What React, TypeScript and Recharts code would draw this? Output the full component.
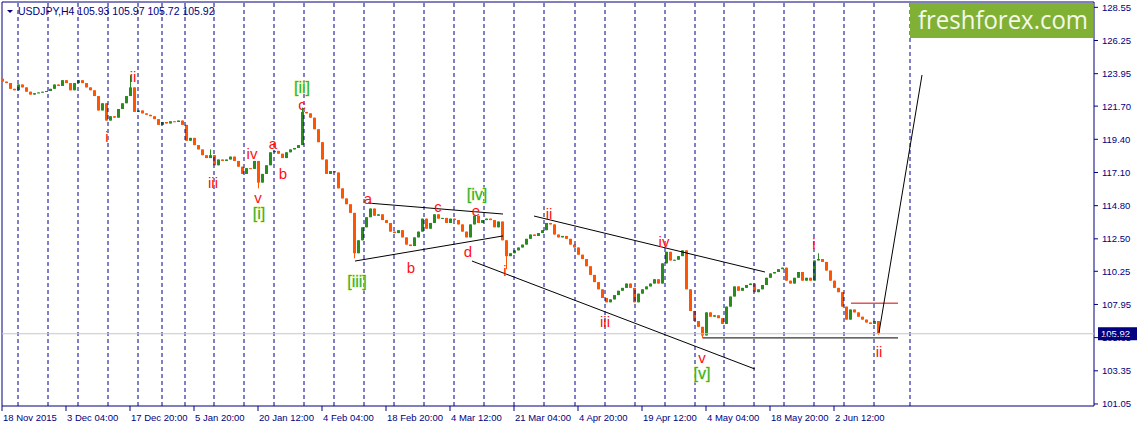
import React from 'react';
import {
  Bar,
  ComposedChart,
  ReferenceArea,
  ReferenceDot,
  ReferenceLine,
  XAxis,
  YAxis,
} from 'recharts';

const NAVY = '#000080';
const UP = '#2A8C1F';
const DOWN = '#FF5500';
const AXIS_FONT = '"Liberation Sans", Arial, sans-serif';

// H4 bars, sampled every 4 bars starting at bar 1
const FIRST_BAR = 1;
const BAR_STEP = 4;
const FIRST_OPEN = 123.6;
const closes = [
  123.4, 123.3, 122.9, 122.8, 123.2, 123.0, 122.7, 122.5, 122.6, 122.65,
  122.7, 122.75, 122.9, 123.2, 123.1, 123.5, 123.3, 122.8, 123.3, 123.5,
  123.3, 123.0, 122.8, 122.4, 121.4, 121.9, 120.7, 121.0, 120.9, 121.5,
  121.9, 122.4, 123.0, 121.3, 121.4, 121.2, 121.1, 121.0, 120.8, 120.4,
  120.6, 120.5, 120.65, 120.6, 120.7, 120.4, 119.3, 119.5, 119.0, 118.7,
  118.3, 118.1, 118.3, 117.6, 118.0, 117.9, 118.0, 118.2, 117.9, 117.5,
  117.0, 117.4, 117.35, 117.9, 116.4, 117.0, 117.6, 118.5, 118.6, 118.4,
  118.1, 118.5, 118.7, 118.8, 119.0, 121.3, 121.2, 120.9, 120.1, 119.2,
  118.0, 117.0, 117.2, 117.1, 116.0, 115.3, 114.9, 114.3, 111.5, 112.4,
  113.3, 114.0, 114.6, 114.1, 114.2, 113.8, 113.6, 113.0, 112.9, 113.1,
  112.6, 112.1, 112.0, 112.6, 113.0, 113.9, 113.2, 113.6, 114.2, 113.9,
  113.95, 113.6, 113.9, 113.8, 113.5, 113.0, 112.6, 113.5, 114.1, 113.6,
  113.8, 113.9, 113.8, 113.3, 113.7, 112.4, 111.3, 111.5, 111.7, 111.9,
  112.1, 112.5, 112.8, 112.7, 112.9, 113.1, 113.6, 113.5, 112.8, 112.6,
  112.7, 112.5, 112.1, 111.9, 111.4, 111.1, 110.6, 110.0, 109.5, 109.0,
  108.4, 108.1, 108.3, 108.6, 108.9, 109.1, 109.4, 109.1, 108.1, 108.7,
  109.0, 109.2, 109.4, 109.7, 109.4, 110.8, 111.6, 111.0, 111.05, 111.3,
  111.7, 109.0, 107.5, 106.8, 106.4, 105.8, 107.4, 107.1, 107.2, 107.0,
  106.6, 107.8, 108.5, 109.2, 108.9, 109.1, 109.3, 109.4, 108.8, 109.0,
  109.3, 109.8, 110.1, 110.2, 110.4, 110.5, 109.6, 109.4, 109.8, 110.2,
  109.6, 109.8, 109.6, 111.0, 111.1, 110.9, 110.3, 109.6, 109.1, 108.8,
  107.8, 106.9, 107.6, 107.4, 107.1, 106.9, 106.7, 106.6, 106.8, 105.92,
];

// [sample index, price] of wick extremes
const wickHighs: [number, number][] = [
  [32, 123.85], [52, 118.7], [75, 121.6], [204, 111.5],
];
const wickLows: [number, number][] = [
  [64, 116.0], [88, 111.15], [126, 110.4], [175, 105.6], [219, 105.85],
];

const dateTicks = [0, 64, 128, 192, 256, 320, 384, 448, 512, 576, 640, 704, 768, 832];
const dateLabels = [
  '18 Nov 2015', '3 Dec 04:00', '17 Dec 20:00', '5 Jan 20:00', '20 Jan 12:00',
  '4 Feb 04:00', '18 Feb 20:00', '4 Mar 12:00', '21 Mar 04:00', '4 Apr 20:00',
  '19 Apr 12:00', '4 May 04:00', '18 May 20:00', '2 Jun 12:00',
];
const weekStarts = [
  16, 46, 76, 106, 136, 160, 183, 212, 242, 272, 302, 332, 362, 392, 422, 452,
  482, 512, 542, 573, 603, 633, 663, 693, 722, 752, 782, 812, 842, 872, 908,
];
const priceTicks = [
  128.55, 126.25, 123.95, 121.7, 119.4, 117.1, 114.8, 112.5, 110.25, 107.95,
  105.65, 103.35, 101.05,
];
const LAST_PRICE = 105.92;
const X_DOMAIN: [number, number] = [0, 1092];
const Y_DOMAIN: [number, number] = [100.91, 128.92];

const waveLabels = [
  { text: 'i', bar: 105, price: 119.56, major: false },
  { text: 'ii', bar: 131, price: 123.72, major: false },
  { text: 'iii', bar: 211, price: 116.37, major: false },
  { text: 'iv', bar: 250, price: 118.38, major: false },
  { text: 'v', bar: 256, price: 115.33, major: false },
  { text: '[i]', bar: 257, price: 114.22, major: true },
  { text: 'a', bar: 271, price: 119.07, major: false },
  { text: 'b', bar: 281, price: 116.99, major: false },
  { text: 'c', bar: 300, price: 121.78, major: false },
  { text: '[ii]', bar: 300, price: 122.98, major: true },
  { text: 'a', bar: 366, price: 115.26, major: false },
  { text: 'b', bar: 409, price: 110.48, major: false },
  { text: 'c', bar: 436, price: 114.71, major: false },
  { text: 'd', bar: 466, price: 111.59, major: false },
  { text: 'e', bar: 474, price: 114.45, major: false },
  { text: '[iii]', bar: 355, price: 109.51, major: true },
  { text: '[iv]', bar: 475, price: 115.58, major: true },
  { text: 'i', bar: 503, price: 110.27, major: false },
  { text: 'ii', bar: 547, price: 114.22, major: false },
  { text: 'iii', bar: 603, price: 106.73, major: false },
  { text: 'iv', bar: 662, price: 112.28, major: false },
  { text: 'v', bar: 700, price: 104.24, major: false },
  { text: '[v]', bar: 700, price: 103.13, major: true },
  { text: 'i', bar: 812, price: 112.14, major: false },
  { text: 'ii', bar: 877, price: 104.66, major: false },
];

const trendLines = [
  { from: [366, 114.98], to: [501, 114.22], color: '#000000' },
  { from: [353, 110.96], to: [501, 112.7], color: '#000000' },
  { from: [470, 110.96], to: [753, 103.47], color: '#000000' },
  { from: [532, 114.08], to: [763, 110.2], color: '#000000' },
  { from: [701, 105.63], to: [896, 105.63], color: '#000000' },
  { from: [849, 108.04], to: [896, 108.04], color: '#D40000' },
  { from: [877, 106.0], to: [920, 123.86], color: '#000000' },
];

const candles = closes.map((close, i) => {
  const open = i === 0 ? FIRST_OPEN : closes[i - 1];
  let hi = Math.max(open, close);
  let lo = Math.min(open, close);
  const wh = wickHighs.find(w => w[0] === i);
  const wl = wickLows.find(w => w[0] === i);
  if (wh) hi = Math.max(hi, wh[1]);
  if (wl) lo = Math.min(lo, wl[1]);
  return { t: FIRST_BAR + i * BAR_STEP, open, close, hi, lo, range: [lo, hi] };
});

const Candle = (props: any) => {
  const { x, y, width, height, payload } = props;
  if (x == null || y == null) return null;
  const top = Math.min(y, y + height);
  const h = Math.abs(height);
  const span = payload.hi - payload.lo || 1;
  const py = (v: number) => top + ((payload.hi - v) / span) * h;
  const color = payload.close >= payload.open ? UP : DOWN;
  const bTop = py(Math.max(payload.open, payload.close));
  const bBot = py(Math.min(payload.open, payload.close));
  const cx = x + width / 2;
  return (
    <g>
      <line x1={cx} x2={cx} y1={top} y2={top + h} stroke={color} strokeWidth={1} />
      <rect x={x} y={bTop} width={width} height={Math.max(1, bBot - bTop)} fill={color} />
    </g>
  );
};

const DateTick = ({ x, y, payload }: any) => {
  const idx = dateTicks.indexOf(payload.value);
  return (
    <text x={x + 1} y={y + 9} fill={NAVY} fontSize={9.5} fontFamily={AXIS_FONT} textAnchor="start">
      {dateLabels[idx]}
    </text>
  );
};

const PriceTag = (props: any) => {
  const vb = props.viewBox || {};
  const x = vb.x + vb.width + 4;
  const y = vb.y;
  return (
    <g>
      <rect x={x} y={y - 6.5} width={40} height={13} fill={NAVY} />
      <text x={x + 3} y={y + 3.5} fill="#ffffff" fontSize={9.5} fontFamily={AXIS_FONT}>
        {LAST_PRICE.toFixed(2)}
      </text>
    </g>
  );
};

export default function App() {
  return (
    <div
      style={{
        position: 'absolute',
        left: 0,
        top: 0,
        width: 1137,
        height: 427,
        background: '#ffffff',
        fontFamily: AXIS_FONT,
      }}
    >
      <ComposedChart
        width={1137}
        height={427}
        data={candles}
        margin={{ top: 2, right: 0, bottom: 0, left: 2 }}
      >
        <XAxis
          dataKey="t"
          type="number"
          domain={X_DOMAIN}
          allowDataOverflow
          ticks={dateTicks}
          interval={0}
          height={21}
          axisLine={false}
          tickLine={{ stroke: NAVY }}
          tickSize={5}
          tickMargin={1}
          tick={<DateTick />}
        />
        <YAxis
          orientation="right"
          type="number"
          domain={Y_DOMAIN}
          allowDataOverflow
          ticks={priceTicks}
          interval={0}
          width={43}
          axisLine={false}
          tickLine={{ stroke: NAVY }}
          tickSize={4}
          tickMargin={4}
          tickFormatter={(v: number) => v.toFixed(2)}
          tick={{ fill: NAVY, fontSize: 9.5, fontFamily: AXIS_FONT }}
        />
        {weekStarts.map(b => (
          <ReferenceLine
            key={`w-${b}`}
            x={b}
            stroke="#00008B"
            strokeDasharray="4 3"
            strokeWidth={1}
          />
        ))}
        <ReferenceLine y={LAST_PRICE} stroke="#C8C8C8" strokeWidth={1} label={PriceTag} />
        <Bar
          dataKey="range"
          barSize={3}
          shape={<Candle />}
          isAnimationActive={false}
        />
        {trendLines.map((l, i) => (
          <ReferenceLine
            key={`l-${i}`}
            segment={[
              { x: l.from[0], y: l.from[1] },
              { x: l.to[0], y: l.to[1] },
            ]}
            stroke={l.color}
            strokeWidth={1}
          />
        ))}
        {waveLabels.map((w, i) => (
          <ReferenceDot
            key={`wl-${i}`}
            x={w.bar}
            y={w.price}
            r={0}
            shape={(p: any) => (
              <text
                x={p.cx}
                y={p.cy}
                dy="0.32em"
                textAnchor="middle"
                fontFamily={AXIS_FONT}
                fontSize={w.major ? 16 : 15}
                fill={w.major ? '#2DB52D' : '#FF1010'}
                stroke={w.major ? '#DCEB8C' : 'none'}
                strokeWidth={w.major ? 0.8 : 0}
                paintOrder="stroke"
              >
                {w.text}
              </text>
            )}
          />
        ))}
        <ReferenceArea
          x1={X_DOMAIN[0]}
          x2={X_DOMAIN[1]}
          y1={Y_DOMAIN[0]}
          y2={Y_DOMAIN[1]}
          fill="none"
          stroke={NAVY}
          strokeWidth={1}
          ifOverflow="visible"
        />
      </ComposedChart>
      <svg
        width={1137}
        height={427}
        style={{ position: 'absolute', left: 0, top: 0, pointerEvents: 'none' }}
      >
        <polygon points="7,10 13,10 10,13" fill={NAVY} />
        <text x={18} y={15} fill={NAVY} fontSize={10.5} fontFamily={AXIS_FONT}>
          USDJPY,H4  105.93 105.97 105.72 105.92
        </text>
        <rect x={910} y={3} width={183} height={35} fill="#80B135" />
        <text
          x={918}
          y={29}
          fill="#F4F9EA"
          fontSize={25}
          fontFamily='"Open Sans", sans-serif'
          textLength={170}
          lengthAdjust="spacingAndGlyphs"
        >
          freshforex.com
        </text>
      </svg>
    </div>
  );
}
